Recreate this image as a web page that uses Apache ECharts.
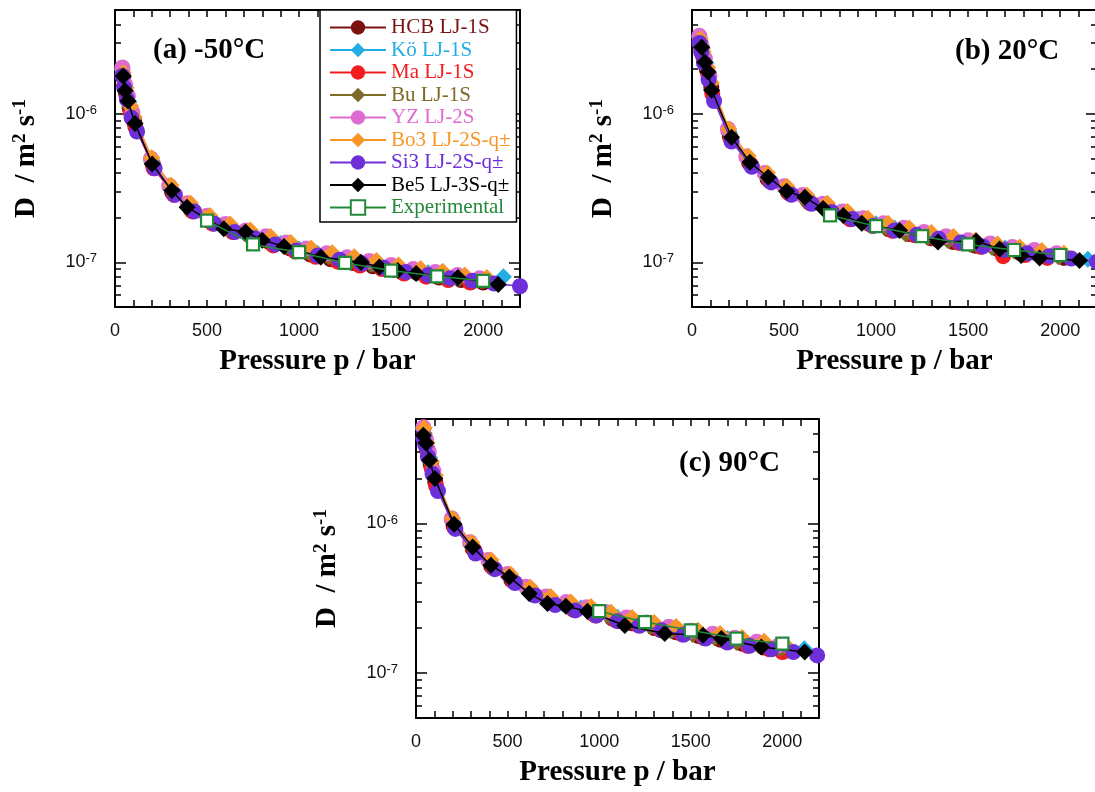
<!DOCTYPE html>
<html><head><meta charset="utf-8">
<script src="https://cdn.jsdelivr.net/npm/echarts@6/dist/echarts.min.js"></script>
<style>html,body{margin:0;padding:0;background:#fff}#c{width:1095px;height:792px}</style>
</head><body><div id="c"></div>
<script>
// ---------------- DATA (pressure in bar, D in m^2/s) ----------------
const NAMES = ['HCB LJ-1S','Kö LJ-1S','Ma LJ-1S','Bu LJ-1S','YZ LJ-2S','Bo3 LJ-2S-q±','Si3 LJ-2S-q±','Be5 LJ-3S-q±','Experimental'];
const COLORS = ['#7a1212','#22ade4','#f21d1d','#7e6b27','#de6cd0','#f8962a','#6c2fd8','#000000','#23893a'];
const SYMBOLS = ['circle','diamond','circle','diamond','circle','diamond','circle','diamond','rect'];
const PANEL_LABELS = ['(a) -50°C','(b) 20°C','(c) 90°C'];
const X_LABELS = [0,500,1000,1500,2000];
const X_TICKS = [0,100,200,300,400,500,600,700,800,900,1000,1100,1200,1300,1400,1500,1600,1700,1800,1900,2000,2100,2200];
const Y_MAJOR = [1e-7,1e-6];
const Y_MINOR = [6e-8,7e-8,8e-8,9e-8,2e-7,3e-7,4e-7,5e-7,6e-7,7e-7,8e-7,9e-7,2e-6,3e-6,4e-6];

// Panel (a) -50 C
const A_HCB = [[45,1.76e-6],[60,1.37e-6],[80,1.09e-6],[105,8.8e-7],[205,4.6e-7],[310,2.97e-7],[410,2.28e-7],[520,1.88e-7],[620,1.68e-7],[730,1.52e-7],[840,1.36e-7],[950,1.24e-7],[1060,1.13e-7],[1170,1.05e-7],[1290,9.9e-8],[1400,9.4e-8],[1520,8.9e-8],[1640,8.5e-8],[1760,7.9e-8],[1880,7.6e-8],[2000,7.3e-8]];
const A_KO = [[40,1.98e-6],[55,1.52e-6],[75,1.2e-6],[100,9.4e-7],[200,4.85e-7],[300,3.15e-7],[400,2.42e-7],[500,2.0e-7],[600,1.76e-7],[700,1.6e-7],[800,1.46e-7],[900,1.34e-7],[1000,1.23e-7],[1100,1.15e-7],[1250,1.05e-7],[1400,9.8e-8],[1550,9.2e-8],[1700,8.5e-8],[1850,8.0e-8],[2000,7.6e-8],[2110,8.0e-8]];
const A_MA = [[50,1.55e-6],[65,1.28e-6],[85,1.03e-6],[110,8.2e-7],[210,4.3e-7],[320,2.85e-7],[420,2.2e-7],[530,1.82e-7],[640,1.6e-7],[750,1.44e-7],[860,1.3e-7],[980,1.18e-7],[1090,1.09e-7],[1210,1.01e-7],[1330,9.5e-8],[1450,9.0e-8],[1570,8.4e-8],[1690,8.0e-8],[1810,7.6e-8],[1930,7.3e-8]];
const A_BU = [[45,1.8e-6],[60,1.4e-6],[80,1.12e-6],[100,9.3e-7],[200,4.75e-7],[300,3.1e-7],[400,2.36e-7],[510,1.94e-7],[610,1.71e-7],[720,1.55e-7],[830,1.41e-7],[940,1.28e-7],[1050,1.17e-7],[1160,1.09e-7],[1280,1.02e-7],[1390,9.7e-8],[1510,9.1e-8],[1630,8.6e-8],[1750,8.1e-8],[1870,7.8e-8],[1990,7.5e-8]];
const A_YZ = [[40,2.05e-6],[55,1.58e-6],[70,1.32e-6],[95,1.02e-6],[195,5.0e-7],[295,3.28e-7],[395,2.5e-7],[500,2.06e-7],[600,1.81e-7],[710,1.64e-7],[820,1.5e-7],[930,1.36e-7],[1040,1.24e-7],[1150,1.15e-7],[1260,1.08e-7],[1380,1.02e-7],[1500,9.6e-8],[1620,9.0e-8],[1740,8.6e-8],[1860,8.2e-8],[1980,7.8e-8]];
const A_BO = [[45,1.9e-6],[60,1.5e-6],[85,1.13e-6],[105,9.5e-7],[200,5.05e-7],[305,3.3e-7],[410,2.5e-7],[515,2.07e-7],[625,1.81e-7],[735,1.65e-7],[845,1.49e-7],[955,1.36e-7],[1065,1.25e-7],[1180,1.16e-7],[1300,1.09e-7],[1420,1.03e-7],[1540,9.6e-8],[1660,9.1e-8],[1780,8.7e-8],[1900,8.2e-8],[2020,7.9e-8]];
const A_SI = [[40,1.8e-6],[50,1.5e-6],[65,1.25e-6],[90,9.4e-7],[120,7.6e-7],[215,4.3e-7],[325,2.85e-7],[430,2.2e-7],[540,1.82e-7],[650,1.6e-7],[760,1.45e-7],[870,1.32e-7],[985,1.2e-7],[1100,1.11e-7],[1220,1.04e-7],[1340,9.8e-8],[1460,9.2e-8],[1580,8.6e-8],[1700,8.2e-8],[1820,7.8e-8],[1940,7.5e-8],[2060,7.2e-8],[2200,6.9e-8]];
const A_BE = [[44,1.8e-6],[55,1.43e-6],[71,1.22e-6],[109,8.6e-7],[202,4.6e-7],[309,3.04e-7],[391,2.35e-7],[591,1.68e-7],[709,1.6e-7],[800,1.41e-7],[918,1.28e-7],[1118,1.08e-7],[1336,1.0e-7],[1436,9.3e-8],[1536,8.8e-8],[1636,8.4e-8],[1863,7.9e-8],[2082,7.1e-8]];
const A_EXP = [[500,1.91e-7],[750,1.32e-7],[1000,1.17e-7],[1250,9.9e-8],[1500,8.8e-8],[1750,8.05e-8],[2000,7.5e-8]];

// Panel (b) 20 C
const B_HCB = [[45,3.0e-6],[60,2.45e-6],[80,2.0e-6],[105,1.5e-6],[205,7.1e-7],[310,4.7e-7],[410,3.65e-7],[520,2.98e-7],[630,2.58e-7],[740,2.25e-7],[850,2.0e-7],[960,1.82e-7],[1070,1.67e-7],[1180,1.55e-7],[1300,1.45e-7],[1420,1.37e-7],[1540,1.29e-7],[1660,1.23e-7],[1780,1.16e-7],[1900,1.11e-7],[2020,1.07e-7]];
const B_KO = [[40,3.3e-6],[55,2.75e-6],[75,2.2e-6],[100,1.63e-6],[200,7.6e-7],[300,5.0e-7],[400,3.88e-7],[500,3.17e-7],[600,2.76e-7],[700,2.43e-7],[800,2.17e-7],[900,1.96e-7],[1000,1.82e-7],[1100,1.7e-7],[1250,1.55e-7],[1400,1.43e-7],[1550,1.34e-7],[1700,1.25e-7],[1850,1.17e-7],[2000,1.11e-7],[2150,1.05e-7]];
const B_MA = [[50,2.75e-6],[65,2.3e-6],[85,1.9e-6],[110,1.37e-6],[210,6.8e-7],[320,4.55e-7],[420,3.55e-7],[530,2.9e-7],[640,2.5e-7],[750,2.2e-7],[860,1.95e-7],[980,1.76e-7],[1090,1.63e-7],[1210,1.52e-7],[1330,1.43e-7],[1450,1.35e-7],[1570,1.27e-7],[1690,1.1e-7],[1810,1.12e-7],[1930,1.07e-7]];
const B_BU = [[45,3.05e-6],[60,2.5e-6],[80,2.05e-6],[100,1.6e-6],[200,7.4e-7],[300,4.9e-7],[400,3.8e-7],[510,3.06e-7],[610,2.66e-7],[720,2.33e-7],[830,2.06e-7],[940,1.87e-7],[1050,1.72e-7],[1160,1.55e-7],[1280,1.47e-7],[1390,1.4e-7],[1510,1.32e-7],[1630,1.26e-7],[1750,1.19e-7],[1870,1.14e-7],[1990,1.09e-7]];
const B_YZ = [[40,3.35e-6],[55,2.8e-6],[70,2.35e-6],[95,1.8e-6],[195,7.9e-7],[295,5.15e-7],[395,4.0e-7],[500,3.25e-7],[600,2.84e-7],[710,2.48e-7],[820,2.2e-7],[930,1.98e-7],[1040,1.83e-7],[1150,1.71e-7],[1260,1.6e-7],[1380,1.5e-7],[1500,1.41e-7],[1620,1.34e-7],[1740,1.27e-7],[1860,1.21e-7],[1980,1.15e-7]];
const B_BO = [[45,3.2e-6],[60,2.62e-6],[85,2.05e-6],[105,1.62e-6],[200,7.9e-7],[305,5.2e-7],[410,4.0e-7],[515,3.25e-7],[625,2.83e-7],[735,2.5e-7],[845,2.2e-7],[955,1.98e-7],[1065,1.83e-7],[1180,1.7e-7],[1300,1.59e-7],[1420,1.49e-7],[1540,1.41e-7],[1660,1.33e-7],[1780,1.27e-7],[1900,1.2e-7],[2020,1.15e-7]];
const B_SI = [[40,3.0e-6],[50,2.6e-6],[65,2.2e-6],[90,1.7e-6],[120,1.22e-6],[215,6.5e-7],[325,4.4e-7],[430,3.45e-7],[540,2.85e-7],[650,2.48e-7],[760,2.18e-7],[870,1.96e-7],[985,1.76e-7],[1100,1.64e-7],[1220,1.53e-7],[1340,1.44e-7],[1460,1.36e-7],[1580,1.28e-7],[1700,1.21e-7],[1820,1.15e-7],[1940,1.1e-7],[2060,1.06e-7],[2200,1.01e-7]];
const B_BE = [[53,2.81e-6],[70,2.22e-6],[88,1.91e-6],[107,1.44e-6],[215,6.96e-7],[314,4.72e-7],[414,3.74e-7],[514,3.01e-7],[613,2.74e-7],[712,2.3e-7],[822,2.07e-7],[922,1.83e-7],[1128,1.64e-7],[1336,1.37e-7],[1544,1.39e-7],[1671,1.23e-7],[1788,1.11e-7],[1888,1.07e-7],[2105,1.03e-7]];
const B_EXP = [[750,2.07e-7],[1000,1.75e-7],[1250,1.5e-7],[1500,1.32e-7],[1750,1.21e-7],[2000,1.12e-7]];

// Panel (c) 90 C
const C_HCB = [[45,3.85e-6],[60,3.15e-6],[80,2.5e-6],[105,1.9e-6],[205,9.7e-7],[310,6.8e-7],[410,5.2e-7],[520,4.2e-7],[630,3.45e-7],[740,2.98e-7],[850,2.72e-7],[960,2.52e-7],[1070,2.32e-7],[1180,2.15e-7],[1300,2.0e-7],[1420,1.87e-7],[1540,1.77e-7],[1660,1.67e-7],[1780,1.57e-7],[1900,1.48e-7],[2020,1.41e-7]];
const C_KO = [[40,4.25e-6],[55,3.55e-6],[75,2.75e-6],[100,2.1e-6],[200,1.04e-6],[300,7.25e-7],[400,5.5e-7],[500,4.5e-7],[600,3.7e-7],[700,3.18e-7],[800,2.92e-7],[900,2.72e-7],[1000,2.55e-7],[1100,2.36e-7],[1250,2.15e-7],[1400,1.95e-7],[1550,1.85e-7],[1700,1.7e-7],[1850,1.58e-7],[2000,1.49e-7],[2120,1.45e-7]];
const C_MA = [[50,3.55e-6],[65,2.95e-6],[85,2.35e-6],[110,1.78e-6],[210,9.4e-7],[320,6.55e-7],[420,5.05e-7],[530,4.1e-7],[640,3.35e-7],[750,2.92e-7],[860,2.65e-7],[980,2.42e-7],[1090,2.25e-7],[1210,2.1e-7],[1330,1.95e-7],[1450,1.82e-7],[1570,1.72e-7],[1690,1.63e-7],[1810,1.52e-7],[1930,1.44e-7],[2000,1.38e-7]];
const C_BU = [[45,4.0e-6],[60,3.25e-6],[80,2.55e-6],[100,2.05e-6],[200,1.02e-6],[300,7.1e-7],[400,5.4e-7],[510,4.35e-7],[610,3.55e-7],[720,3.05e-7],[830,2.8e-7],[940,2.6e-7],[1050,2.4e-7],[1160,2.2e-7],[1280,2.05e-7],[1390,1.92e-7],[1510,1.81e-7],[1630,1.72e-7],[1750,1.6e-7],[1870,1.52e-7],[1990,1.45e-7]];
const C_YZ = [[40,4.4e-6],[55,3.65e-6],[70,3.0e-6],[95,2.25e-6],[195,1.08e-6],[295,7.5e-7],[395,5.7e-7],[500,4.6e-7],[600,3.78e-7],[710,3.25e-7],[820,2.98e-7],[930,2.75e-7],[1040,2.55e-7],[1150,2.35e-7],[1260,2.18e-7],[1380,2.04e-7],[1500,1.92e-7],[1620,1.83e-7],[1740,1.72e-7],[1860,1.62e-7],[1980,1.53e-7]];
const C_BO = [[45,4.35e-6],[60,3.45e-6],[85,2.6e-6],[105,2.1e-6],[200,1.08e-6],[305,7.45e-7],[410,5.7e-7],[515,4.6e-7],[625,3.75e-7],[735,3.25e-7],[845,2.98e-7],[955,2.78e-7],[1065,2.55e-7],[1180,2.35e-7],[1300,2.18e-7],[1420,2.05e-7],[1540,1.93e-7],[1660,1.84e-7],[1780,1.73e-7],[1900,1.63e-7],[2020,1.53e-7]];
const C_SI = [[40,3.75e-6],[50,3.35e-6],[65,2.8e-6],[90,2.15e-6],[120,1.65e-6],[215,9.2e-7],[325,6.3e-7],[430,4.95e-7],[540,4.0e-7],[650,3.3e-7],[760,2.85e-7],[870,2.62e-7],[985,2.42e-7],[1100,2.22e-7],[1220,2.07e-7],[1340,1.93e-7],[1460,1.8e-7],[1580,1.7e-7],[1700,1.6e-7],[1820,1.52e-7],[1940,1.44e-7],[2060,1.38e-7],[2190,1.31e-7]];
const C_BE = [[40,3.9e-6],[55,3.46e-6],[74,2.65e-6],[103,2.0e-6],[208,9.9e-7],[309,6.97e-7],[409,5.26e-7],[509,4.39e-7],[618,3.4e-7],[718,2.92e-7],[818,2.8e-7],[936,2.59e-7],[1140,2.08e-7],[1358,1.84e-7],[1567,1.79e-7],[1667,1.7e-7],[1885,1.49e-7],[2122,1.38e-7]];
const C_EXP = [[1000,2.59e-7],[1250,2.19e-7],[1500,1.93e-7],[1750,1.7e-7],[2000,1.57e-7]];

const X_MIN = 0, X_MAX = 2200, Y_MIN = 5e-8, Y_MAX = 5e-6;

// ---------------- LAYOUT ----------------
const PANELS = [
  { rect:{left:115, top:10, width:405, height:297}, labelPos:[153,36], sets:[A_HCB,A_KO,A_MA,A_BU,A_YZ,A_BO,A_SI,A_BE,A_EXP] },
  { rect:{left:692, top:10, width:405, height:297}, labelPos:[955,37], sets:[B_HCB,B_KO,B_MA,B_BU,B_YZ,B_BO,B_SI,B_BE,B_EXP] },
  { rect:{left:416, top:419, width:403, height:299}, labelPos:[679,449], sets:[C_HCB,C_KO,C_MA,C_BU,C_YZ,C_BO,C_SI,C_BE,C_EXP] }
];

const SERIF = 'Liberation Serif';
const SANS = 'Liberation Sans';
const axisLine = { show:true, onZero:false, lineStyle:{ color:'#000', width:2 } };
const tickLine = { color:'#000', width:1.5 };

const grid = [], xAxis = [], yAxis = [], series = [], title = [];
PANELS.forEach((p, i) => {
  const g = grid.length;
  grid.push(Object.assign({ containLabel:false, outerBoundsMode:'none' }, p.rect));
  grid.push(Object.assign({ containLabel:false, outerBoundsMode:'none' }, p.rect));
  const xb = xAxis.length;
  xAxis.push({ gridIndex:g, type:'value', position:'bottom', min:X_MIN, max:X_MAX,
    axisLine, splitLine:{show:false},
    axisTick:{ inside:true, length:7, customValues:X_TICKS, lineStyle:tickLine },
    axisLabel:{ customValues:X_LABELS, margin:15, fontSize:18, fontFamily:SANS, color:'#111',
      formatter: v => String(v) },
    name:'Pressure p / bar', nameLocation:'middle', nameGap:40,
    nameTextStyle:{ fontFamily:SERIF, fontWeight:'bold', fontSize:29, color:'#000' } });
  xAxis.push({ gridIndex:g, type:'value', position:'top', min:X_MIN, max:X_MAX,
    axisLine, splitLine:{show:false},
    axisTick:{ inside:true, length:7, customValues:X_TICKS, lineStyle:tickLine },
    axisLabel:{ show:false } });
  xAxis.push({ gridIndex:g+1, type:'value', min:X_MIN, max:X_MAX, show:false });
  const yl = yAxis.length;
  yAxis.push({ gridIndex:g, type:'log', logBase:10, position:'left', min:Y_MIN, max:Y_MAX,
    axisLine, splitLine:{show:false},
    axisTick:{ inside:true, length:11, customValues:Y_MAJOR, lineStyle:tickLine },
    axisLabel:{ customValues:Y_MAJOR, margin:18,
      formatter: v => '{b|10}{e|' + Math.round(Math.log10(v)) + '}',
      rich:{ b:{ fontSize:18, fontFamily:SANS, color:'#111', lineHeight:20 },
             e:{ fontSize:13, fontFamily:SANS, color:'#111', verticalAlign:'top', lineHeight:13 } } },
    name:'{t|D  / m}{s|2}{t| s}{s|-1}', nameLocation:'middle', nameGap:72,
    nameTextStyle:{ rich:{
      t:{ fontFamily:SERIF, fontWeight:'bold', fontSize:29, color:'#000', lineHeight:32 },
      s:{ fontFamily:SERIF, fontWeight:'bold', fontSize:19, color:'#000', verticalAlign:'top', lineHeight:19 } } } });
  yAxis.push({ gridIndex:g, type:'log', logBase:10, position:'right', min:Y_MIN, max:Y_MAX,
    axisLine, splitLine:{show:false},
    axisTick:{ inside:true, length:11, customValues:Y_MAJOR, lineStyle:tickLine },
    axisLabel:{ show:false } });
  yAxis.push({ gridIndex:g+1, type:'log', logBase:10, position:'left', min:Y_MIN, max:Y_MAX,
    axisLine:{show:false}, splitLine:{show:false},
    axisTick:{ show:true, inside:true, length:6, customValues:Y_MINOR, lineStyle:tickLine },
    axisLabel:{ show:false } });
  yAxis.push({ gridIndex:g+1, type:'log', logBase:10, position:'right', min:Y_MIN, max:Y_MAX,
    axisLine:{show:false}, splitLine:{show:false},
    axisTick:{ show:true, inside:true, length:6, customValues:Y_MINOR, lineStyle:tickLine },
    axisLabel:{ show:false } });

  p.sets.forEach((d, k) => {
    const isExp = SYMBOLS[k] === 'rect';
    series.push({
      type:'line', name:NAMES[k], xAxisIndex:xb, yAxisIndex:yl, data:d,
      symbol:SYMBOLS[k], symbolSize: isExp ? 12 : (SYMBOLS[k] === 'diamond' ? 17 : 16),
      showSymbol:true, showAllSymbol:true, animation:false,
      lineStyle:{ color:COLORS[k], width:1.5 },
      itemStyle: isExp ? { color:'#ffffff', borderColor:COLORS[k], borderWidth:2.2 } : { color:COLORS[k] },
      emphasis:{ disabled:true }, z: 2 + k * 0.01
    });
  });

  title.push({ text:PANEL_LABELS[i], left:p.labelPos[0], top:p.labelPos[1], padding:0,
    textStyle:{ fontFamily:SERIF, fontWeight:'bold', fontSize:29, color:'#000' } });
});

const chart = echarts.init(document.getElementById('c'), null, { renderer:'canvas' });
chart.setOption({
  backgroundColor:'#ffffff',
  animation:false,
  title, grid, xAxis, yAxis, series,
  legend:{ orient:'vertical', left:320, top:10, itemWidth:56, itemHeight:18, itemGap:1.5,
    padding:[7,6,4,9], backgroundColor:'#ffffff', borderColor:'#000', borderWidth:1.5, borderRadius:0,
    selectedMode:false, textStyle:{ fontFamily:SERIF, fontSize:21 },
    lineStyle:{ width:2 },
    data: NAMES.map((n, i) => ({ name:n, textStyle:{ color:COLORS[i] } })) }
});
</script></body></html>
